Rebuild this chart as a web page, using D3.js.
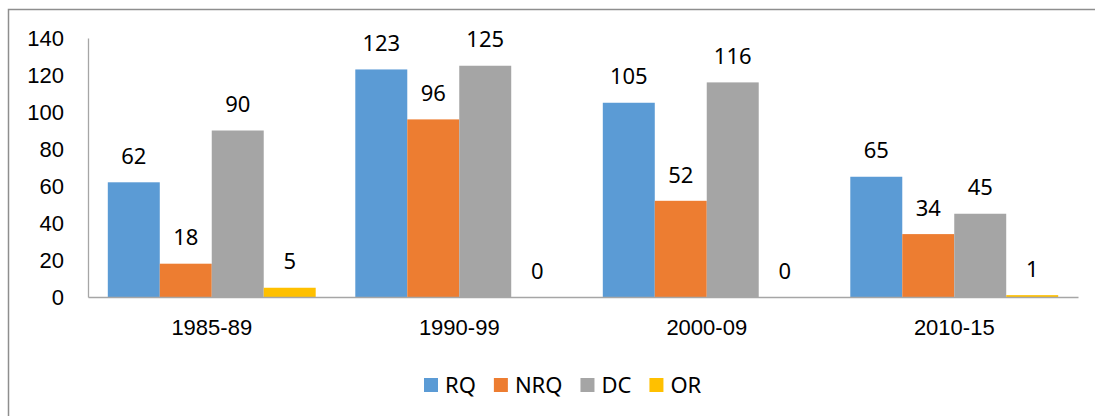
<!DOCTYPE html>
<html>
<head>
<meta charset="utf-8">
<script src="https://cdnjs.cloudflare.com/ajax/libs/d3/7.8.5/d3.min.js"></script>
<style>
  body { margin: 0; background: #fff; }
  svg { display: block; font-family: 'Noto Sans', sans-serif; }
  .axis-text { font-size: 22px; fill: #000; }
</style>
</head>
<body>
<svg id="chart" width="1095" height="416"></svg>
<script>
// periods on the x axis
const categories = ['1985-89', '1990-99', '2000-09', '2010-15']
const seriesNames = ['RQ', 'NRQ', 'DC', 'OR']
// one array per series, in category order
const rq  = [62, 123, 105, 65]
const nrq = [18, 96, 52, 34]
const dc  = [90, 125, 116, 45]
const or  = [5, 0, 0, 1]
const yTicks = [0, 20, 40, 60, 80, 100, 120, 140]

const seriesValues = [rq, nrq, dc, or]
const colors = ['#5B9BD5', '#ED7D31', '#A5A5A5', '#FFC000']

const svg = d3.select('#chart')
const plot = {left: 88, right: 1078, top: 38, bottom: 297}

// outer frame (runs off the right and bottom of the picture)
svg.append('rect')
  .attr('x', 8.5).attr('y', 9.5)
  .attr('width', 1200).attr('height', 500)
  .attr('fill', 'none')
  .attr('stroke', '#8e8e8e')
  .attr('stroke-width', 1.5)

let x = d3.scaleBand()
  .domain(categories)
  .range([plot.left, plot.right])
let bandW = x.bandwidth()
let inner = d3.scaleBand()
  .domain(seriesNames)
  .range([bandW * 0.08, bandW * 0.92])
let y = d3.scaleLinear()
  .domain([0, 140])
  .range([plot.bottom, plot.top])

// y axis
let yAxis = d3.axisLeft(y)
  .tickValues(yTicks)
  .tickSize(0)
  .tickPadding(24)
let yG = svg.append('g')
  .attr('transform', 'translate(' + plot.left + ',0)')
  .call(yAxis)
yG.select('.domain').attr('stroke', '#a6a6a6').attr('stroke-width', 1.3)
yG.selectAll('text').attr('class', 'axis-text').attr('dy', '0.35em')
  .style('font-family', null).attr('font-size', null).attr('fill', null)

// bars, one group per category
let groups = svg.selectAll('.cat')
  .data(categories)
  .enter()
  .append('g')
  .attr('class', 'cat')
  .attr('transform', d => 'translate(' + x(d) + ',0)')

groups.selectAll('rect')
  .data((d, ci) => seriesNames.map((s, si) => ({s: s, si: si, v: seriesValues[si][ci]})))
  .enter()
  .append('rect')
  .attr('x', d => inner(d.s))
  .attr('y', d => y(d.v))
  .attr('width', inner.bandwidth())
  .attr('height', d => plot.bottom - y(d.v))
  .attr('fill', d => colors[d.si])

groups.selectAll('.val')
  .data((d, ci) => seriesNames.map((s, si) => ({s: s, si: si, v: seriesValues[si][ci]})))
  .enter()
  .append('text')
  .attr('class', 'axis-text val')
  .attr('x', d => inner(d.s) + inner.bandwidth() / 2)
  .attr('y', d => y(d.v) - 26)
  .attr('dy', '0.35em')
  .attr('text-anchor', 'middle')
  .text(d => d.v)

// x axis
let xAxis = d3.axisBottom(x).tickSize(0).tickPadding(22)
let xG = svg.append('g')
  .attr('transform', 'translate(0,' + plot.bottom + ')')
  .call(xAxis)
xG.select('.domain').attr('stroke', '#a6a6a6').attr('stroke-width', 1.3)
xG.selectAll('text').attr('class', 'axis-text')
  .style('font-family', null).attr('font-size', null).attr('fill', null)

// legend
let legend = svg.append('g').attr('transform', 'translate(424,385)')
let lx = 0
seriesNames.forEach(function(name, i) {
  let item = legend.append('g').attr('transform', 'translate(' + lx + ',0)')
  item.append('rect')
    .attr('x', 0).attr('y', -7)
    .attr('width', 14).attr('height', 14)
    .attr('fill', colors[i])
  let t = item.append('text')
    .attr('class', 'axis-text')
    .attr('x', 21)
    .attr('dy', '0.35em')
    .text(name)
  lx += 21 + t.node().getComputedTextLength() + 18
})
</script>
</body>
</html>
